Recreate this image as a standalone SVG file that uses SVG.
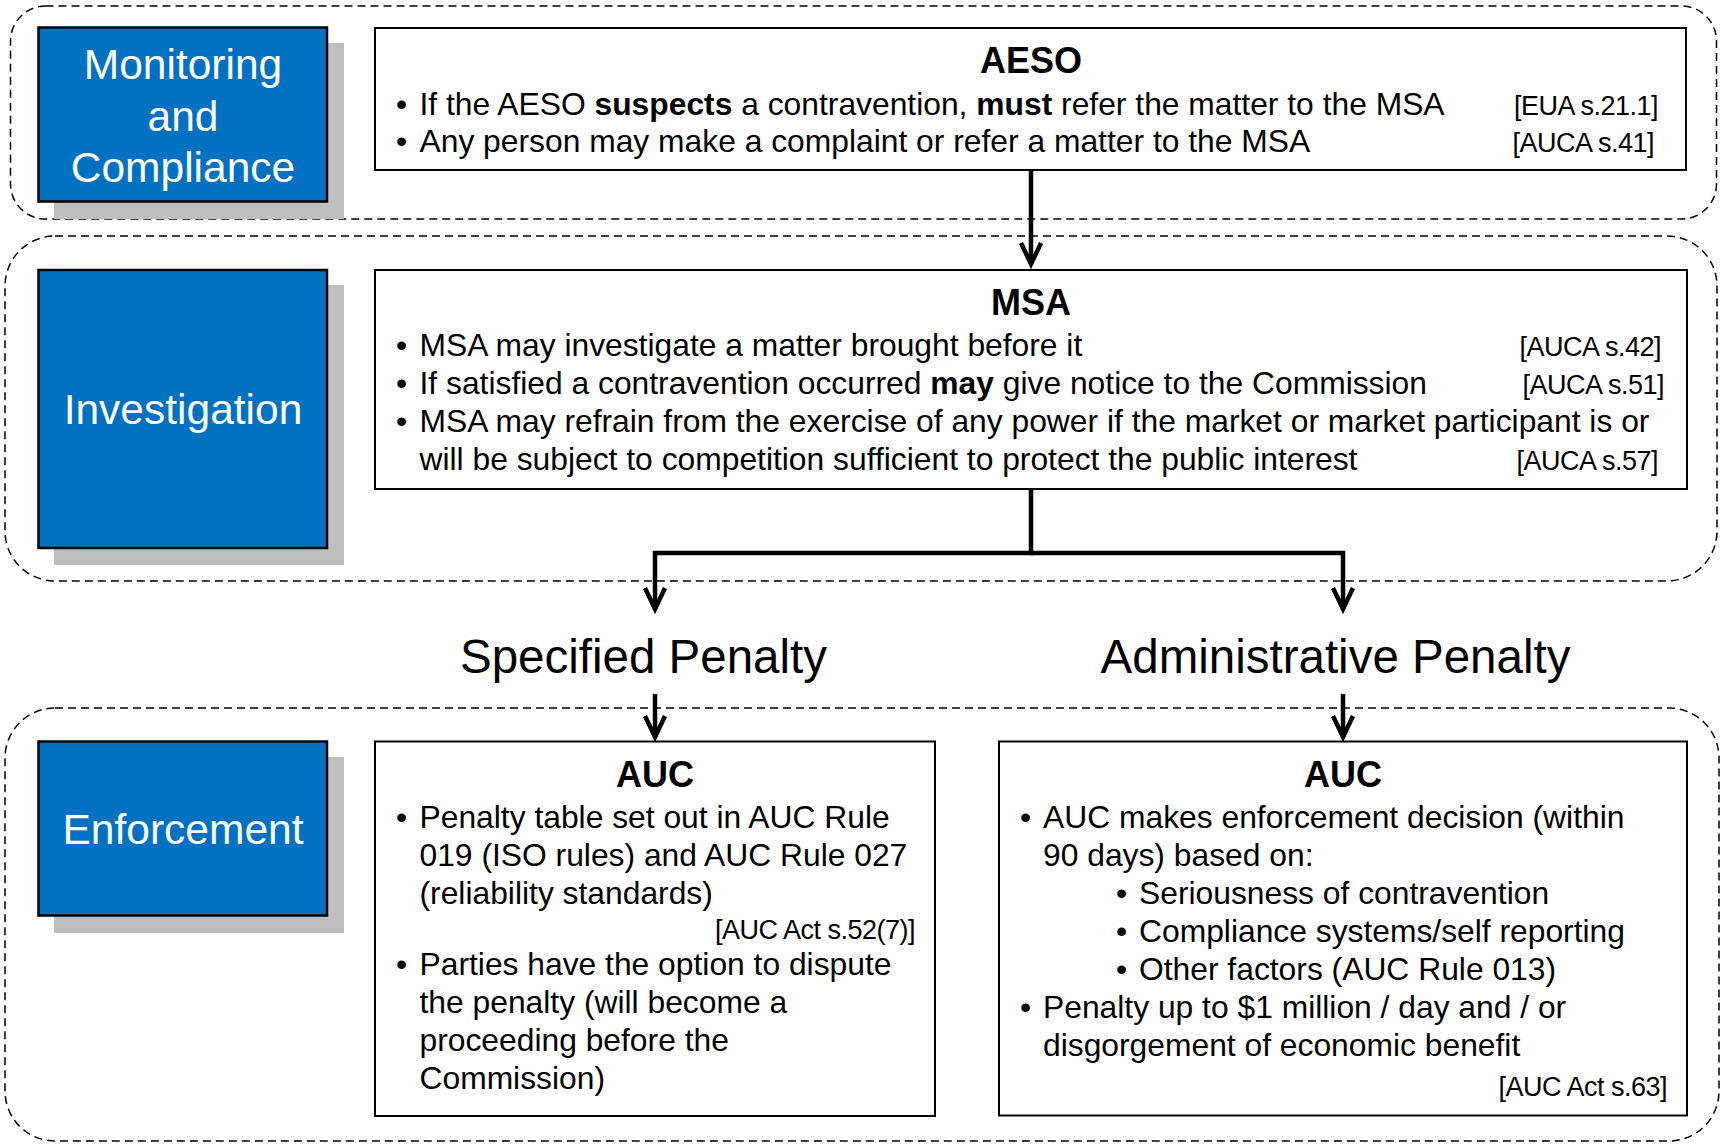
<svg xmlns="http://www.w3.org/2000/svg" width="1725" height="1144" viewBox="0 0 1725 1144">
<style>
text{font-family:"Liberation Sans",Arial,sans-serif;fill:#000}
.sec{fill:none;stroke:#000;stroke-width:1.5;stroke-dasharray:8 5}
.shadow{fill:#BFBFBF}
.blue{fill:#0070C0;stroke:#000;stroke-width:2.5}
.box{fill:#fff;stroke:#000;stroke-width:2}
.lbl{font-size:42.5px;fill:#fff;text-anchor:middle}
.t{font-size:31.8px}
.h{font-size:36px;font-weight:bold;text-anchor:middle}
.c{font-size:27px;letter-spacing:-0.5px;text-anchor:end}
.big{font-size:47.5px;text-anchor:middle}
.conn{fill:none;stroke:#000;stroke-width:4.5;stroke-linejoin:miter;marker-end:url(#chev)}
</style>
<defs>
<marker id="chev" markerUnits="userSpaceOnUse" viewBox="-28 -16 34 32" markerWidth="34" markerHeight="32" refX="0" refY="0" orient="auto">
<path d="M-21,-10 L0,0 L-21,10" fill="none" stroke="#000" stroke-width="4.5" stroke-linejoin="miter"/>
</marker>
</defs>
<rect fill="#fff" x="0" y="0" width="1725" height="1144"/>

<g id="sections">
<rect class="sec" x="10.5" y="6" width="1706" height="213" rx="35" ry="35"/>
<rect class="sec" x="5" y="236" width="1712" height="345" rx="50" ry="50"/>
<rect class="sec" x="5" y="708" width="1714" height="433" rx="50" ry="50"/>
</g>

<g id="stage-monitoring">
<rect class="shadow" x="54" y="43" width="290" height="176"/>
<rect class="blue" x="38.5" y="27.5" width="288.5" height="174"/>
<text class="lbl" x="183" y="79">Monitoring</text>
<text class="lbl" x="183" y="131">and</text>
<text class="lbl" x="183" y="182">Compliance</text>
</g>

<g id="stage-investigation">
<rect class="shadow" x="54" y="285" width="290" height="280"/>
<rect class="blue" x="38.5" y="270" width="288.5" height="278"/>
<text class="lbl" x="183" y="424">Investigation</text>
</g>

<g id="stage-enforcement">
<rect class="shadow" x="54" y="757" width="290" height="176"/>
<rect class="blue" x="38.5" y="741.5" width="288.5" height="174"/>
<text class="lbl" x="183" y="844">Enforcement</text>
</g>

<g id="aeso">
<rect class="box" x="375" y="28" width="1311" height="142"/>
<text class="h" x="1031" y="73">AESO</text>
<text class="t" x="396" y="115">•</text>
<text class="t" x="419.5" y="115">If the AESO <tspan font-weight="bold">suspects</tspan> a contravention, <tspan font-weight="bold">must</tspan> refer the matter to the MSA</text>
<text class="c" x="1658" y="115">[EUA s.21.1]</text>
<text class="t" x="396" y="152">•</text>
<text class="t" x="419.5" y="152">Any person may make a complaint or refer a matter to the MSA</text>
<text class="c" x="1654" y="152">[AUCA s.41]</text>
</g>

<g id="msa">
<rect class="box" x="375" y="270" width="1312" height="219"/>
<text class="h" x="1031" y="315">MSA</text>
<text class="t" x="396" y="356">•</text>
<text class="t" x="419.5" y="356">MSA may investigate a matter brought before it</text>
<text class="c" x="1661" y="356">[AUCA s.42]</text>
<text class="t" x="396" y="394">•</text>
<text class="t" x="419.5" y="394">If satisfied a contravention occurred <tspan font-weight="bold">may</tspan> give notice to the Commission</text>
<text class="c" x="1664" y="394">[AUCA s.51]</text>
<text class="t" x="396" y="432">•</text>
<text class="t" x="419.5" y="432">MSA may refrain from the exercise of any power if the market or market participant is or</text>
<text class="t" x="419.5" y="470">will be subject to competition sufficient to protect the public interest</text>
<text class="c" x="1658" y="470">[AUCA s.57]</text>
</g>

<g id="label-specified">
<text class="big" x="643.5" y="673">Specified Penalty</text>
</g>
<g id="label-administrative">
<text class="big" x="1335.5" y="673">Administrative Penalty</text>
</g>

<g id="auc-specified">
<rect class="box" x="375" y="741.5" width="560" height="374.5"/>
<text class="h" x="655" y="787">AUC</text>
<text class="t" x="396" y="828">•</text>
<text class="t" x="419.5" y="828">Penalty table set out in AUC Rule</text>
<text class="t" x="419.5" y="866">019 (ISO rules) and AUC Rule 027</text>
<text class="t" x="419.5" y="904">(reliability standards)</text>
<text class="c" x="915" y="939">[AUC Act s.52(7)]</text>
<text class="t" x="396" y="975">•</text>
<text class="t" x="419.5" y="975">Parties have the option to dispute</text>
<text class="t" x="419.5" y="1013">the penalty (will become a</text>
<text class="t" x="419.5" y="1051">proceeding before the</text>
<text class="t" x="419.5" y="1089">Commission)</text>
</g>

<g id="auc-administrative">
<rect class="box" x="999" y="741.5" width="688" height="374"/>
<text class="h" x="1343" y="787">AUC</text>
<text class="t" x="1020" y="828">•</text>
<text class="t" x="1043" y="828">AUC makes enforcement decision (within</text>
<text class="t" x="1043" y="866">90 days) based on:</text>
<text class="t" x="1116" y="904">•</text>
<text class="t" x="1139" y="904">Seriousness of contravention</text>
<text class="t" x="1116" y="942">•</text>
<text class="t" x="1139" y="942">Compliance systems/self reporting</text>
<text class="t" x="1116" y="980">•</text>
<text class="t" x="1139" y="980">Other factors (AUC Rule 013)</text>
<text class="t" x="1020" y="1018">•</text>
<text class="t" x="1043" y="1018">Penalty up to $1 million / day and / or</text>
<text class="t" x="1043" y="1056">disgorgement of economic benefit</text>
<text class="c" x="1667" y="1096">[AUC Act s.63]</text>
</g>

<g id="connectors">
<path class="conn" d="M1031,170 V264"/>
<path class="conn" d="M1031,489 V553 H655 V609"/>
<path class="conn" d="M1031,553 H1343 V609"/>
<path class="conn" d="M655,694 V737"/>
<path class="conn" d="M1343,694 V737"/>
</g>
</svg>
